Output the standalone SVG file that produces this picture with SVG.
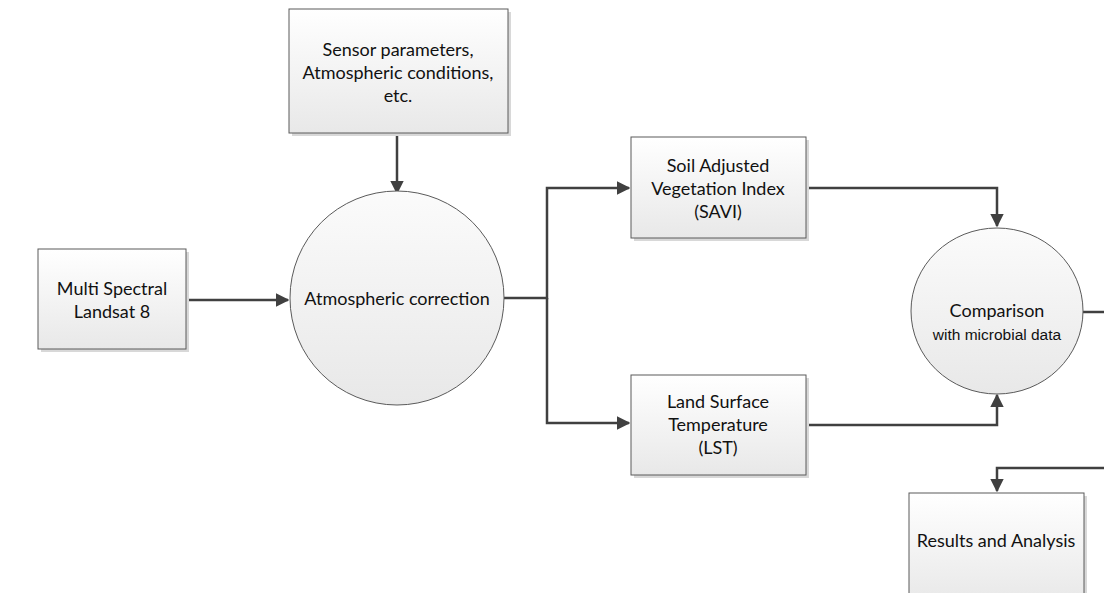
<svg xmlns="http://www.w3.org/2000/svg" width="1104" height="593" viewBox="0 0 1104 593">
<style>
.box{fill:url(#g);stroke:#5a5a5a;stroke-width:1}
.sh{fill:#d8d8d8}
.c{fill:none;stroke:#404040;stroke-width:2.5}
.t{font-family:Lato,"Liberation Sans",sans-serif;font-size:18px;fill:#111;text-anchor:middle}
.s{font-family:"Liberation Sans",Arial,sans-serif;font-size:15.5px;fill:#111;text-anchor:middle}
</style>
<defs>
<linearGradient id="g" x1="0" y1="0" x2="0" y2="1"><stop offset="0" stop-color="#ffffff"/><stop offset="1" stop-color="#e8e8e8"/></linearGradient>
<linearGradient id="gc" x1="0" y1="0" x2="0" y2="1"><stop offset="0" stop-color="#fbfbfb"/><stop offset="1" stop-color="#e8e8e8"/></linearGradient>
<marker id="a" viewBox="0 0 10 10" refX="9" refY="5" markerWidth="5.5" markerHeight="5.5" markerUnits="strokeWidth" orient="auto"><path d="M0,0L10,5L0,10z" fill="#404040"/></marker>
</defs>
<g id="connectors">
<path class="c" d="M397,133V193" marker-end="url(#a)"/>
<path class="c" d="M186,300H288" marker-end="url(#a)"/>
<path class="c" d="M504,298H547V188H629" marker-end="url(#a)"/>
<path class="c" d="M547,298V423H629" marker-end="url(#a)"/>
<path class="c" d="M806,188H997V226" marker-end="url(#a)"/>
<path class="c" d="M806,425H997V395" marker-end="url(#a)"/>
<path class="c" d="M1083,312H1104"/>
<path class="c" d="M1104,468H997V491" marker-end="url(#a)"/>
</g>
<g id="sensor">
<rect class="sh" x="292" y="12" width="219" height="124"/>
<rect class="box" x="289" y="9" width="219" height="124"/>
<text class="t" x="398" y="56">Sensor parameters,</text>
<text class="t" x="398" y="79">Atmospheric conditions,</text>
<text class="t" x="398" y="102">etc.</text>
</g>
<g id="multispectral">
<rect class="sh" x="41" y="252" width="148" height="100"/>
<rect class="box" x="38" y="249" width="148" height="100"/>
<text class="t" x="112" y="295">Multi Spectral</text>
<text class="t" x="112" y="318">Landsat 8</text>
</g>
<g id="atmospheric">
<circle cx="397" cy="298" r="107" fill="url(#gc)" stroke="#5a5a5a" stroke-width="1"/>
<text class="t" x="397" y="305">Atmospheric correction</text>
</g>
<g id="savi">
<rect class="sh" x="634" y="140" width="175" height="101"/>
<rect class="box" x="631" y="137" width="175" height="101"/>
<text class="t" x="718" y="172">Soil Adjusted</text>
<text class="t" x="718" y="195">Vegetation Index</text>
<text class="t" x="718" y="218">(SAVI)</text>
</g>
<g id="lst">
<rect class="sh" x="634" y="378" width="175" height="100"/>
<rect class="box" x="631" y="375" width="175" height="100"/>
<text class="t" x="718" y="408">Land Surface</text>
<text class="t" x="718" y="431">Temperature</text>
<text class="t" x="718" y="454">(LST)</text>
</g>
<g id="comparison">
<ellipse cx="997" cy="311" rx="86" ry="83" fill="url(#gc)" stroke="#5a5a5a" stroke-width="1"/>
<text class="t" x="997" y="317">Comparison</text>
<text class="s" x="997" y="340">with microbial data</text>
</g>
<g id="results">
<rect class="sh" x="912" y="496" width="175" height="110"/>
<rect class="box" x="909" y="493" width="175" height="110"/>
<text class="t" x="996" y="547">Results and Analysis</text>
</g>
</svg>
